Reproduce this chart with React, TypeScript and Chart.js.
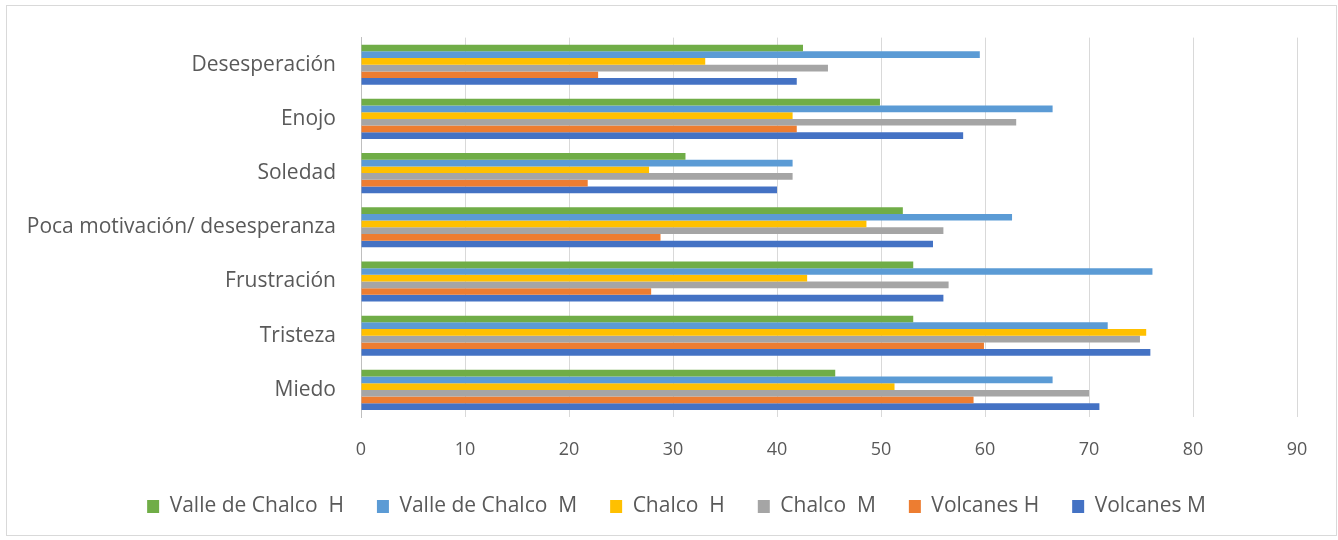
import React, { useEffect, useRef } from "react";
import { Chart, registerables } from "chart.js";

Chart.register(...registerables);

const categories = [
  "Desesperación",
  "Enojo",
  "Soledad",
  "Poca motivación/ desesperanza",
  "Frustración",
  "Tristeza",
  "Miedo",
];

const seriesNames = [
  "Valle de Chalco  H",
  "Valle de Chalco  M",
  "Chalco  H",
  "Chalco  M",
  "Volcanes H",
  "Volcanes M",
];

const valleChalcoH = [42.5, 49.9, 31.2, 52.1, 53.1, 53.1, 45.6];
const valleChalcoM = [59.5, 66.5, 41.5, 62.6, 76.1, 71.8, 66.5];
const chalcoH = [33.1, 41.5, 27.7, 48.6, 42.9, 75.5, 51.3];
const chalcoM = [44.9, 63.0, 41.5, 56.0, 56.5, 74.9, 70.0];
const volcanesH = [22.8, 41.9, 21.8, 28.8, 27.9, 59.9, 58.9];
const volcanesM = [41.9, 57.9, 40.0, 55.0, 56.0, 75.9, 71.0];

const seriesColors = ["#70AD47", "#5B9BD5", "#FFC000", "#A5A5A5", "#ED7D31", "#4472C4"];

const xTicks = [0, 10, 20, 30, 40, 50, 60, 70, 80, 90];

const legendShift = {
  id: "legendShift",
  afterLayout(chart: any) {
    if (chart.legend) {
      chart.legend.left += 28;
      chart.legend.right += 28;
    }
  },
};

export default function App() {
  const canvasRef = useRef<HTMLCanvasElement | null>(null);

  useEffect(() => {
    document.body.style.margin = "0";
    const ctx = canvasRef.current;
    if (!ctx) return;
    const all = [valleChalcoH, valleChalcoM, chalcoH, chalcoM, volcanesH, volcanesM];
    const chart = new Chart(ctx, {
      type: "bar",
      data: {
        labels: categories,
        datasets: all.map((d, i) => ({
          label: seriesNames[i],
          data: d,
          backgroundColor: seriesColors[i],
          borderWidth: 0,
          barPercentage: 1,
          categoryPercentage: 0.74,
        })),
      },
      plugins: [legendShift],
      options: {
        indexAxis: "y",
        animation: false,
        responsive: false,
        maintainAspectRatio: false,
        layout: { padding: { top: 37, right: 41, bottom: 13, left: 0 } },
        plugins: {
          legend: {
            position: "bottom",
            labels: {
              boxWidth: 12,
              boxHeight: 13,
              padding: 33,
              color: "#595959",
              font: { family: "Open Sans", size: 21 },
            },
          },
          tooltip: { enabled: false },
        },
        scales: {
          x: {
            min: 0,
            max: 90,
            afterBuildTicks: (scale: any) => {
              scale.ticks = xTicks.map((v) => ({ value: v }));
            },
            grid: { color: "#d9d9d9", lineWidth: 1, drawTicks: false },
            border: { display: false },
            ticks: {
              color: "#595959",
              padding: 22,
              font: { family: "Open Sans", size: 18 },
            },
            afterFit: (scale: any) => {
              scale.height = 46;
            },
          },
          y: {
            grid: { display: false, drawTicks: false },
            border: { display: true, color: "#bfbfbf", width: 1 },
            ticks: {
              color: "#595959",
              padding: 25,
              font: { family: "Open Sans", size: 21 },
            },
            afterFit: (scale: any) => {
              scale.width = 361;
            },
          },
        },
      },
    });
    return () => chart.destroy();
  }, []);

  return (
    <div style={{ position: "relative", width: 1338, height: 540 }}>
      <div
        style={{
          position: "absolute",
          left: 6,
          top: 5,
          width: 1329,
          height: 529,
          border: "1px solid #d9d9d9",
          pointerEvents: "none",
        }}
      />
      <canvas ref={canvasRef} width={1338} height={540} style={{ display: "block" }} />
    </div>
  );
}
